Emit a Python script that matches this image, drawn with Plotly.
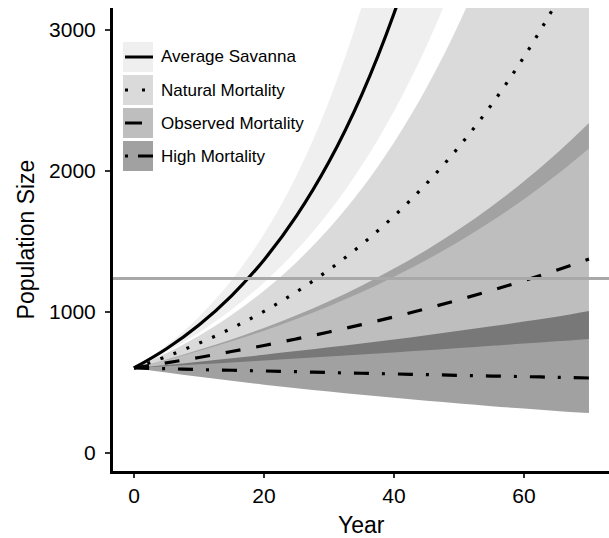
import plotly.graph_objects as go

# ---------------- data ----------------
years = [0, 5, 10, 15, 20, 25, 30, 35, 40, 45, 50, 55, 60, 65, 70]

avg_mean  = [600, 737, 906, 1113, 1368, 1681, 2065, 2537, 3118, 3831, 4708, 5785, 7108, 8734, 10732]
avg_low   = [600, 714, 851, 1013, 1206, 1436, 1709, 2035, 2424, 2886, 3436, 4090, 4871, 5799, 6904]
avg_high  = [600, 761, 965, 1223, 1551, 1967, 2495, 3164, 4012, 5087, 6451, 8180, 10373, 13153, 16680]

nat_mean  = [600, 682, 776, 882, 1003, 1141, 1298, 1476, 1679, 1910, 2172, 2470, 2810, 3196, 3635]
nat_low   = [600, 657, 720, 790, 865, 948, 1039, 1138, 1248, 1367, 1498, 1642, 1799, 1971, 2160]
nat_high  = [600, 706, 830, 977, 1149, 1352, 1591, 1871, 2202, 2590, 3047, 3585, 4217, 4961, 5837]

obs_mean  = [600, 637, 675, 717, 760, 807, 856, 908, 963, 1022, 1085, 1151, 1221, 1295, 1374]
obs_low   = [600, 613, 626, 639, 653, 667, 681, 696, 711, 726, 742, 758, 774, 790, 807]
obs_high  = [600, 661, 729, 803, 885, 975, 1075, 1185, 1306, 1439, 1586, 1748, 1926, 2123, 2340]

hi_mean   = [600, 595, 589, 584, 579, 574, 568, 563, 558, 553, 548, 543, 539, 534, 529]
hi_low    = [600, 568, 538, 510, 482, 457, 433, 410, 388, 367, 348, 329, 312, 295, 280]
hi_high   = [600, 622, 645, 669, 694, 720, 747, 775, 803, 833, 864, 896, 930, 964, 1005]

threshold = 1235

scenarios = ["Average Savanna", "Natural Mortality", "Observed Mortality", "High Mortality"]
x_ticks = [0, 20, 40, 60]
y_ticks = [0, 1000, 2000, 3000]
x_title = "Year"
y_title = "Population Size"

# ---------------- styles ----------------
FONT = "Liberation Sans, Arial, Helvetica, sans-serif"
fills = ["rgba(0,0,0,0.063)", "rgba(0,0,0,0.145)", "rgba(0,0,0,0.255)", "rgba(0,0,0,0.37)"]
dashes = ["solid", "3px,11px", "15px,16px", "15px,13px,3px,13px"]
key_dashes = ["solid", "3px,14px", "17px,20px", "3px,10px,15px,20px"]

series = [
    (avg_low, avg_high, avg_mean),
    (nat_low, nat_high, nat_mean),
    (obs_low, obs_high, obs_mean),
    (hi_low, hi_high, hi_mean),
]

fig = go.Figure()

# ribbons
for (lo, up, _), fc, name in zip(series, fills, scenarios):
    fig.add_trace(go.Scatter(x=years, y=lo, mode="lines", line=dict(width=0, shape="spline"),
                             showlegend=False, hoverinfo="skip"))
    fig.add_trace(go.Scatter(x=years, y=up, mode="lines", line=dict(width=0, shape="spline"),
                             fill="tonexty", fillcolor=fc, showlegend=False, name=name))

# mean lines
for (_, _, m), d, name in zip(series, dashes, scenarios):
    fig.add_trace(go.Scatter(x=years, y=m, mode="lines", name=name,
                             line=dict(color="black", width=3.2, dash=d, shape="spline"),
                             showlegend=False))

# plot area geometry (pixels)
W, H = 609, 538
L, R, T, B = 113, 0, 8, 67
pw, ph = W - L - R, H - T - B

def px(xp):
    return (xp - L) / pw

def py(yp):
    return (H - B - yp) / ph

shapes = []
annotations = []
# threshold line (above everything)
shapes.append(dict(type="line", xref="paper", yref="y", x0=0, x1=1, y0=threshold, y1=threshold,
                   line=dict(color="#a8a8a8", width=3), layer="above"))

# manual legend
row_centers = [57, 90, 123, 156]
for name, fc, kd, yc in zip(scenarios, fills, key_dashes, row_centers):
    shapes.append(dict(type="rect", xref="paper", yref="paper",
                       x0=px(123), x1=px(153), y0=py(yc + 15), y1=py(yc - 15),
                       fillcolor=fc, line=dict(width=0), layer="above"))
    shapes.append(dict(type="line", xref="paper", yref="paper",
                       x0=px(125), x1=px(153), y0=py(yc), y1=py(yc),
                       line=dict(color="black", width=3, dash=kd), layer="above"))
    annotations.append(dict(text=name, xref="paper", yref="paper", x=px(159), y=py(yc),
                            xanchor="left", yanchor="middle", showarrow=False,
                            font=dict(family=FONT, size=17, color="black")))

# x axis title (placed as text below the tick labels)
annotations.append(dict(text=x_title, xref="paper", yref="paper", x=0.5, y=py(525),
                        xanchor="center", yanchor="middle", showarrow=False,
                        font=dict(family=FONT, size=23, color="black")))

fig.update_layout(
    width=W, height=H,
    margin=dict(l=L, r=R, t=T, b=B, pad=0),
    paper_bgcolor="white", plot_bgcolor="white",
    font=dict(family=FONT, color="black"),
    shapes=shapes, annotations=annotations,
    showlegend=False,
)

fig.update_xaxes(
    range=[-3.23, 73.08], tickvals=x_ticks, ticktext=[str(v) for v in x_ticks],
    showgrid=False, zeroline=False, showline=True, linecolor="black", linewidth=3,
    ticks="outside", ticklen=4, tickwidth=1.5, tickcolor="#333333",
    tickfont=dict(family=FONT, size=21, color="black"), ticklabelstandoff=0,
    automargin=False,
)
fig.update_yaxes(
    range=[-131.4, 3157], tickvals=y_ticks, ticktext=[str(v) for v in y_ticks],
    showgrid=False, zeroline=False, showline=True, linecolor="black", linewidth=3,
    ticks="outside", ticklen=5, tickwidth=1.5, tickcolor="#333333",
    tickfont=dict(family=FONT, size=21, color="black"), ticklabelstandoff=5,
    title=dict(text=y_title, font=dict(family=FONT, size=23, color="black"), standoff=9),
    automargin=False,
)

fig.write_html("out.html", post_script="document.body.style.margin='0px';",
               config={"displayModeBar": False})
